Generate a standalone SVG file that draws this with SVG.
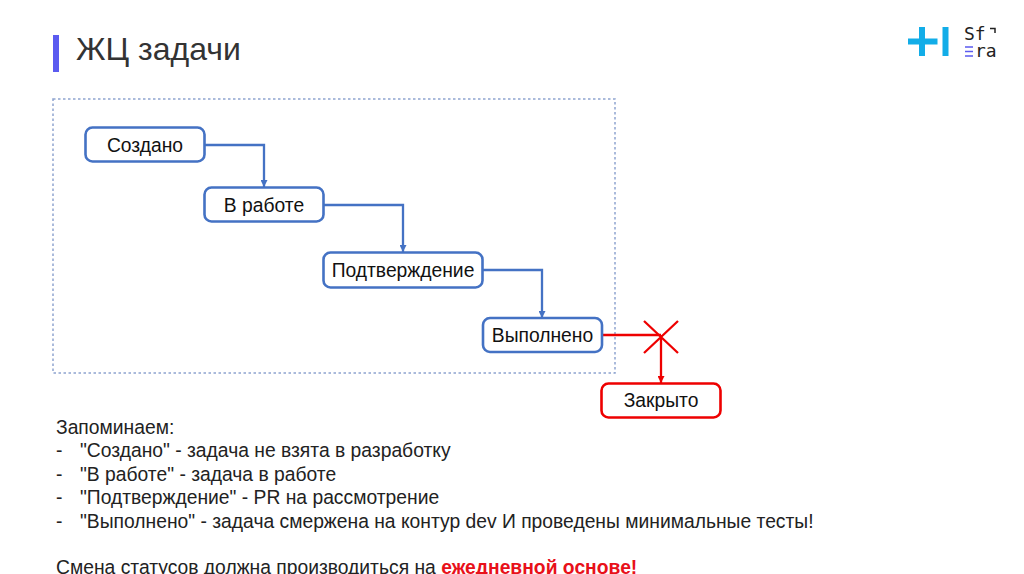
<svg xmlns="http://www.w3.org/2000/svg" width="1024" height="574" viewBox="0 0 1024 574">
<style>
text{font-family:"Liberation Sans",Arial,sans-serif;}
.n{fill:#fff;stroke:#4472c4;stroke-width:2.6}
.r{fill:#fff;stroke:#ee0000;stroke-width:2.6}
.l{font-size:19.3px;fill:#111;text-anchor:middle}
.c{fill:none;stroke:#4472c4;stroke-width:2.3}
.x{fill:none;stroke:#ee0000;stroke-width:2.3}
.b{font-size:19.3px;fill:#222}
.m{font-family:"DejaVu Sans Mono",monospace;font-size:18px;fill:#222}
</style>
<defs>
<marker id="ab" markerUnits="userSpaceOnUse" markerWidth="8" markerHeight="7" refX="7" refY="3.5" orient="auto"><path d="M0 0L7 3.5L0 7z" fill="#4472c4"/></marker>
<marker id="ar" markerUnits="userSpaceOnUse" markerWidth="8" markerHeight="7" refX="7" refY="3.5" orient="auto"><path d="M0 0L7 3.5L0 7z" fill="#ee0000"/></marker>
</defs>
<rect width="1024" height="574" fill="#fff"/>
<g id="title">
<rect x="53" y="35" width="6" height="37" fill="#5b5bf0"/>
<text x="76" y="60" font-size="32" fill="#333">ЖЦ задачи</text>
</g>
<g id="logo">
<path d="M908 41.500H937.500M922 27V56M945.500 27V56" fill="none" stroke="#12ade8" stroke-width="6"/>
<text class="m" x="964" y="40">Sf</text>
<text class="m" x="975" y="57">ra</text>
<path d="M990 28.500H995V33" fill="none" stroke="#222" stroke-width="1.500"/>
<path d="M965 47H973M965 51.500H973M965 56H973" fill="none" stroke="#5b5bf0" stroke-width="1.500"/>
</g>
<g id="frame"><rect x="53" y="99" width="562" height="274" fill="none" stroke="#8ea4cf" stroke-width="1.500" stroke-dasharray="2.500 2.500"/></g>
<g id="connectors">
<path class="c" marker-end="url(#ab)" d="M205 145H264V187"/>
<path class="c" marker-end="url(#ab)" d="M324 205H403V252"/>
<path class="c" marker-end="url(#ab)" d="M483 270H542V318"/>
<path class="x" d="M602 335H661"/>
<path class="x" marker-end="url(#ar)" d="M661 335V383"/>
<path class="x" d="M644 321L678 353M678 321L644 353"/>
</g>
<g id="n1"><rect class="n" x="85.500" y="127.500" width="119" height="34" rx="7"/><text class="l" x="145" y="152">Создано</text></g>
<g id="n2"><rect class="n" x="204.500" y="187.500" width="119" height="34" rx="7"/><text class="l" x="264" y="212">В работе</text></g>
<g id="n3"><rect class="n" x="323.500" y="252.500" width="159" height="35" rx="7"/><text class="l" x="403" y="277">Подтверждение</text></g>
<g id="n4"><rect class="n" x="483" y="318" width="119" height="34" rx="7"/><text class="l" x="542.500" y="342">Выполнено</text></g>
<g id="n5"><rect class="r" x="601.500" y="383.500" width="119" height="34" rx="7"/><text class="l" x="661" y="407">Закрыто</text></g>
<g id="notes">
<text class="b" x="56" y="434">Запоминаем:</text>
<text class="b" x="56" y="457">-</text><text class="b" x="80" y="457">"Создано" - задача не взята в разработку</text>
<text class="b" x="56" y="481">-</text><text class="b" x="80" y="481">"В работе" - задача в работе</text>
<text class="b" x="56" y="504">-</text><text class="b" x="80" y="504">"Подтверждение" - PR на рассмотрение</text>
<text class="b" x="56" y="528">-</text><text class="b" x="80" y="528">"Выполнено" - задача смержена на контур dev И проведены минимальные тесты!</text>
<text class="b" x="56" y="574">Смена статусов должна производиться на <tspan font-weight="bold" fill="#e8111a">ежедневной основе!</tspan></text>
</g>
</svg>
